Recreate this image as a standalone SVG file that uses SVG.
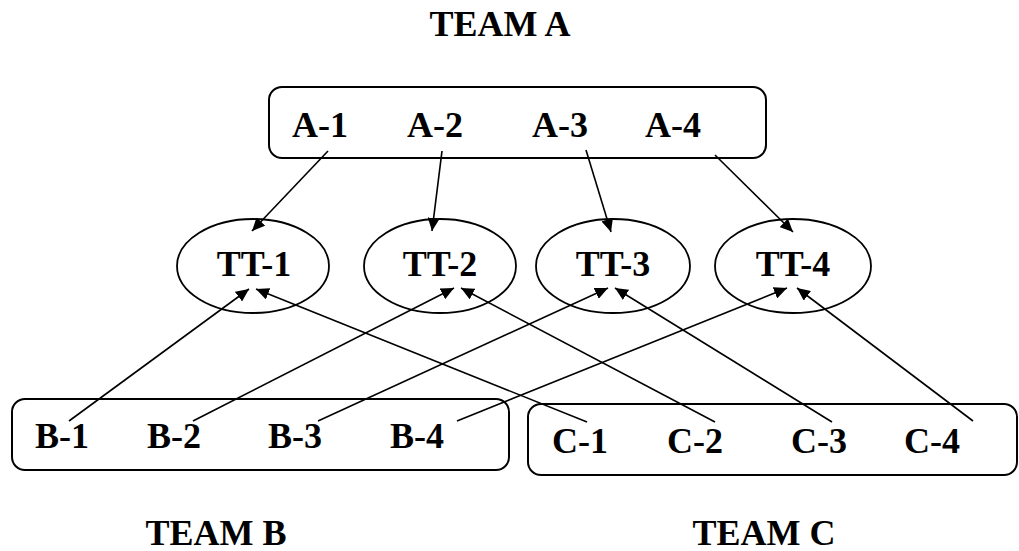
<svg xmlns="http://www.w3.org/2000/svg" width="1019" height="551" viewBox="0 0 1019 551">
<style>
.t{font-family:"Liberation Serif","Times New Roman",serif;font-weight:bold;font-size:36px;fill:#000}
.box{fill:#fff;stroke:#000;stroke-width:2}
.el{fill:#fff;stroke:#000;stroke-width:1.8}
.c{stroke:#000;stroke-width:1.6;fill:none;marker-end:url(#ah)}
</style>
<defs>
<marker id="ah" markerUnits="userSpaceOnUse" markerWidth="14" markerHeight="12" refX="13" refY="6" orient="auto">
<path d="M0,0 L13,6 L0,12 Z" fill="#000"/>
</marker>
</defs>
<rect width="1019" height="551" fill="#fff"/>
<text class="t" x="500" y="36" text-anchor="middle">TEAM A</text>
<text class="t" x="216" y="545" text-anchor="middle">TEAM B</text>
<text class="t" x="764" y="545" text-anchor="middle">TEAM C</text>
<g id="teamA">
<rect class="box" x="269" y="87" width="497" height="71" rx="13"/>
<text class="t" x="292" y="137">A-1</text>
<text class="t" x="407" y="137">A-2</text>
<text class="t" x="532" y="137">A-3</text>
<text class="t" x="645" y="137">A-4</text>
</g>
<g id="teamB">
<rect class="box" x="12" y="399" width="497" height="71" rx="13"/>
<text class="t" x="35" y="448">B-1</text>
<text class="t" x="147" y="448">B-2</text>
<text class="t" x="268" y="448">B-3</text>
<text class="t" x="390" y="448">B-4</text>
</g>
<g id="teamC">
<rect class="box" x="528" y="404" width="489" height="71" rx="13"/>
<text class="t" x="552" y="453">C-1</text>
<text class="t" x="667" y="453">C-2</text>
<text class="t" x="791" y="453">C-3</text>
<text class="t" x="904" y="453">C-4</text>
</g>
<g id="tt1"><ellipse class="el" cx="253" cy="266" rx="76" ry="47"/><text class="t" x="254" y="276" text-anchor="middle">TT-1</text></g>
<g id="tt2"><ellipse class="el" cx="440" cy="266" rx="76" ry="47"/><text class="t" x="440" y="276" text-anchor="middle">TT-2</text></g>
<g id="tt3"><ellipse class="el" cx="613" cy="266" rx="77" ry="47"/><text class="t" x="613" y="276" text-anchor="middle">TT-3</text></g>
<g id="tt4"><ellipse class="el" cx="793" cy="266" rx="78" ry="47"/><text class="t" x="793" y="276" text-anchor="middle">TT-4</text></g>
<g id="connectors">
<line class="c" x1="328" y1="151" x2="252" y2="231"/>
<line class="c" x1="442" y1="151" x2="432" y2="231"/>
<line class="c" x1="586" y1="150" x2="611" y2="232"/>
<line class="c" x1="715" y1="155" x2="793" y2="232"/>
<line class="c" x1="69" y1="421" x2="249" y2="289"/>
<line class="c" x1="587" y1="422" x2="256" y2="289"/>
<line class="c" x1="193" y1="421" x2="454" y2="288"/>
<line class="c" x1="715" y1="422" x2="461" y2="288"/>
<line class="c" x1="318" y1="421" x2="608" y2="288"/>
<line class="c" x1="832" y1="422" x2="615" y2="288"/>
<line class="c" x1="457" y1="421" x2="787" y2="288"/>
<line class="c" x1="973" y1="421" x2="797" y2="288"/>
</g>
</svg>
